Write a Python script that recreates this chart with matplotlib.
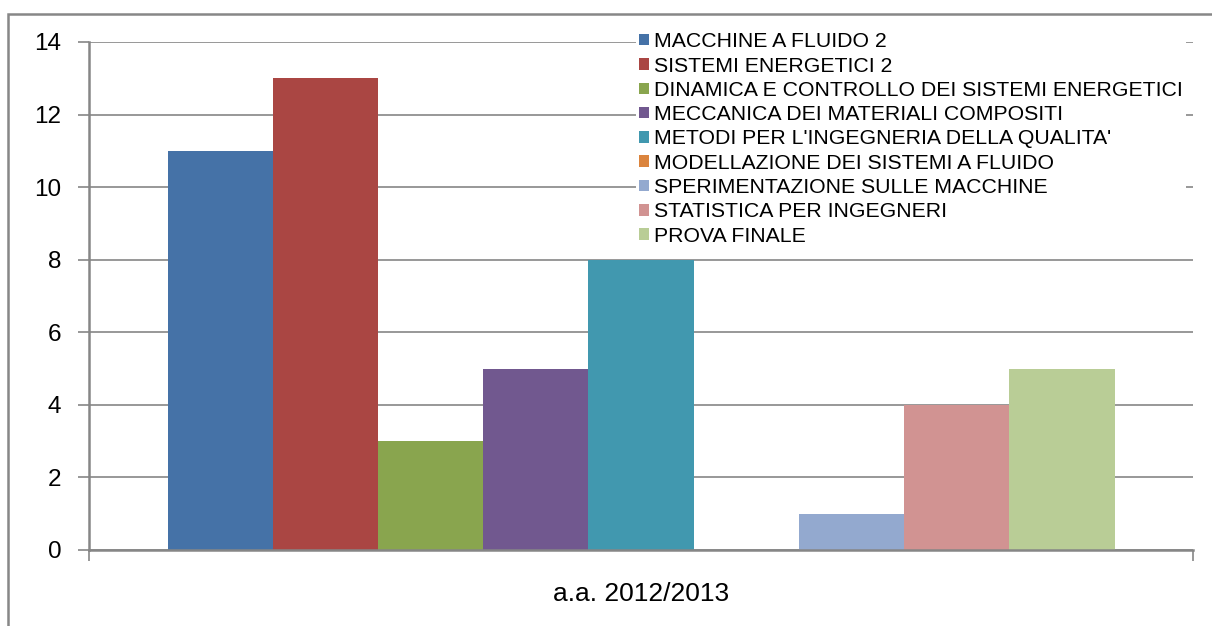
import matplotlib
matplotlib.use("Agg")
import matplotlib.pyplot as plt
from matplotlib.patches import Rectangle

plt.rcParams['font.family'] = ['Liberation Sans', 'DejaVu Sans']

category = "a.a. 2012/2013"
series = ["MACCHINE A FLUIDO 2", "SISTEMI ENERGETICI 2",
          "DINAMICA E CONTROLLO DEI SISTEMI ENERGETICI",
          "MECCANICA DEI MATERIALI COMPOSITI",
          "METODI PER L'INGEGNERIA DELLA QUALITA'",
          "MODELLAZIONE DEI SISTEMI A FLUIDO",
          "SPERIMENTAZIONE SULLE MACCHINE",
          "STATISTICA PER INGEGNERI", "PROVA FINALE"]
values = [11, 13, 3, 5, 8, 0, 1, 4, 5]
colors = ["#4572A7", "#AA4643", "#89A54E", "#71588F", "#4198AF",
          "#DB843D", "#93A9CF", "#D19392", "#B9CD96"]
yticks = [0, 2, 4, 6, 8, 10, 12, 14]

W, H = 1212, 626
fig = plt.figure(figsize=(W / 100, H / 100), dpi=100)
fig.patch.set_facecolor("white")
ax = fig.add_axes([89 / W, 1 - 550 / H, (1193 - 89) / W, (550 - 42) / H])

grey = "#868686"
n = len(values)
total = 947 / 1104
bw = total / n
for i, (v, c, s) in enumerate(zip(values, colors, series)):
    x = -total / 2 + bw * (i + 0.5)
    ax.bar(x, v, width=bw, color=c, label=s, linewidth=0, zorder=2)

ax.set_xlim(-0.5, 0.5)
ax.set_ylim(0, 14)
ax.set_yticks(yticks)
ax.set_yticklabels([str(t) for t in yticks], fontsize=17.5)
ax.yaxis.grid(True, color=grey, linewidth=1.2, zorder=0)
ax.set_axisbelow(True)
ax.tick_params(axis='y', length=8, width=1.2, color=grey, pad=12)

ax.set_xticks([-0.5, 0.5])
ax.set_xticklabels(["", ""])
ax.tick_params(axis='x', length=8, width=1.2, color=grey, direction='out')
ax.text(0, -1.2, category, ha='center', va='center', fontsize=19,
        transform=ax.transData)

for side in ['top', 'right']:
    ax.spines[side].set_visible(False)
for side in ['left', 'bottom']:
    ax.spines[side].set_color(grey)
    ax.spines[side].set_linewidth(1.8)

leg = ax.legend(loc='upper left', bbox_to_anchor=(636 / W, 1 - 29 / H),
                bbox_transform=fig.transFigure, frameon=True, fontsize=15.3,
                handlelength=0.45, handleheight=0.45, handletextpad=0.25,
                labelspacing=0.25, borderpad=0.15, borderaxespad=0,
                fancybox=False)
leg.get_frame().set_facecolor("white")
leg.get_frame().set_edgecolor("none")
leg.get_frame().set_alpha(1)

fig.patches.append(Rectangle((8 / W, -0.1), 1.2, 1 - 14 / H + 0.1,
                             transform=fig.transFigure, fill=False,
                             edgecolor="#878787", linewidth=1.8))

fig.savefig("out.png", dpi=100)
